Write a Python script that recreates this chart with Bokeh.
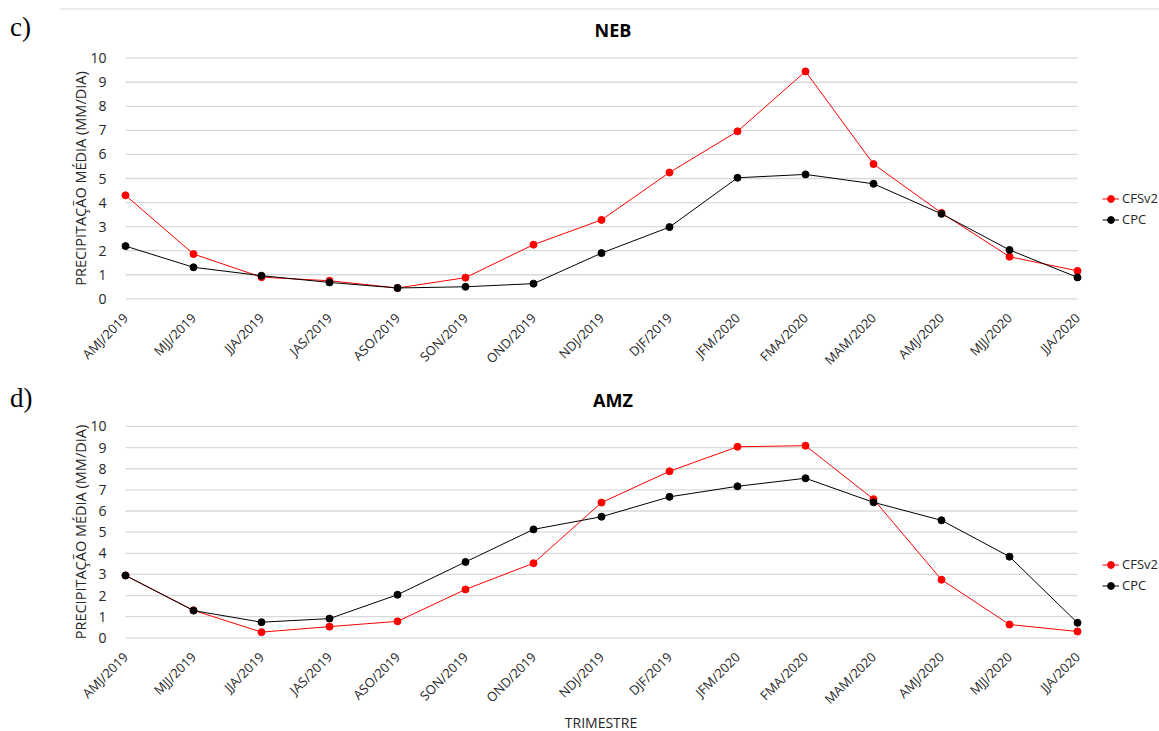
import math
from bokeh.plotting import figure
from bokeh.models import FixedTicker, Legend, LegendItem, Range1d, Div
from bokeh.layouts import column
from bokeh.embed import file_html
from bokeh.resources import INLINE

trimestres = ["AMJ/2019", "MJJ/2019", "JJA/2019", "JAS/2019", "ASO/2019",
              "SON/2019", "OND/2019", "NDJ/2019", "DJF/2019", "JFM/2020",
              "FMA/2020", "MAM/2020", "AMJ/2020", "MJJ/2020", "JJA/2020"]

neb_cfsv2 = [4.3, 1.86, 0.9, 0.75, 0.45, 0.88, 2.25, 3.28, 5.25, 6.96, 9.45, 5.6, 3.57, 1.75, 1.16]
neb_cpc = [2.19, 1.31, 0.96, 0.68, 0.45, 0.5, 0.63, 1.9, 2.98, 5.03, 5.17, 4.78, 3.53, 2.03, 0.89]

amz_cfsv2 = [2.95, 1.3, 0.27, 0.53, 0.78, 2.29, 3.53, 6.4, 7.88, 9.04, 9.09, 6.56, 2.75, 0.63, 0.3]
amz_cpc = [2.95, 1.29, 0.74, 0.91, 2.04, 3.59, 5.13, 5.73, 6.67, 7.17, 7.55, 6.41, 5.56, 3.84, 0.71]

y_ticks = list(range(0, 11))
series_names = ["CFSv2", "CPC"]
y_label = "PRECIPITAÇÃO MÉDIA (MM/DIA)"
x_label = "TRIMESTRE"

FONT = "Open Sans"
TXT = "#262626"
GRID = "#d9d9d9"
RED = "#ff0000"
BLK = "#000000"

W = 1159
LEFT = 117
TOP_B = 4
PX_PER_X = 68.0
X_START = -8.0 / PX_PER_X
X_END = X_START + (W - LEFT) / PX_PER_X


def header(letter, name, height, letter_y, name_y, rule=False):
    parts = ['<div style="position:relative;width:%dpx;height:%dpx;margin:0;padding:0;">' % (W, height)]
    if rule:
        parts.append('<div style="position:absolute;left:60px;top:8px;width:1099px;'
                     'height:2px;background:#ececec;"></div>')
    parts.append('<span style="position:absolute;left:10px;top:%dpx;transform:translateY(-50%%);'
                 'font-family:\'Liberation Serif\',serif;font-size:27px;line-height:1;'
                 'color:#000;white-space:nowrap;">%s</span>' % (letter_y, letter))
    parts.append('<span style="position:absolute;left:613px;top:%dpx;transform:translate(-50%%,-50%%);'
                 'font-family:\'Open Sans\',sans-serif;font-weight:bold;font-size:18px;'
                 'line-height:1;color:#000;white-space:nowrap;">%s</span>' % (name_y, name))
    parts.append('</div>')
    return Div(text="".join(parts), width=W, height=height, margin=0)


def make_panel(cfs, cpc, frame_h, bot_b, px_per_y, pad_bot, legend_loc):
    y_start = -pad_bot / px_per_y
    y_end = y_start + frame_h / px_per_y
    p = figure(width=W, height=TOP_B + frame_h + bot_b, output_backend="svg",
               toolbar_location=None, title=None,
               x_range=Range1d(X_START, X_END),
               y_range=Range1d(y_start, y_end),
               min_border_left=LEFT, min_border_right=0,
               min_border_top=TOP_B, min_border_bottom=bot_b)
    p.outline_line_color = None
    p.xgrid.visible = False
    p.ygrid.visible = False

    xs = list(range(len(trimestres)))
    n = len(y_ticks)
    p.segment(x0=[xs[0]] * n, x1=[xs[-1]] * n, y0=y_ticks, y1=y_ticks,
              line_color=GRID, line_width=1.3)

    l1 = p.line(xs, cfs, line_color=RED, line_width=1)
    s1 = p.scatter(xs, cfs, size=7, fill_color=RED, line_color=RED)
    l2 = p.line(xs, cpc, line_color=BLK, line_width=1)
    s2 = p.scatter(xs, cpc, size=7, fill_color=BLK, line_color=BLK)

    p.yaxis.ticker = FixedTicker(ticks=y_ticks)
    p.yaxis.axis_line_color = None
    p.yaxis.major_tick_line_color = None
    p.yaxis.minor_tick_line_color = None
    p.yaxis.major_label_text_font = FONT
    p.yaxis.major_label_text_font_size = "14px"
    p.yaxis.major_label_text_color = TXT
    p.yaxis.major_label_standoff = 5
    p.yaxis.axis_label = y_label
    p.yaxis.axis_label_text_font = FONT
    p.yaxis.axis_label_text_font_size = "14.5px"
    p.yaxis.axis_label_text_font_style = "normal"
    p.yaxis.axis_label_text_color = TXT
    p.yaxis.axis_label_standoff = -3

    p.xaxis.ticker = FixedTicker(ticks=xs)
    p.xaxis.major_label_overrides = {i: t for i, t in enumerate(trimestres)}
    p.xaxis.major_label_orientation = math.pi / 4
    p.xaxis.axis_line_color = None
    p.xaxis.major_tick_line_color = None
    p.xaxis.minor_tick_line_color = None
    p.xaxis.major_label_text_font = FONT
    p.xaxis.major_label_text_font_size = "13px"
    p.xaxis.major_label_text_color = TXT
    p.xaxis.major_label_standoff = 3

    legend = Legend(items=[LegendItem(label=series_names[0], renderers=[l1, s1]),
                           LegendItem(label=series_names[1], renderers=[l2, s2])],
                    location=legend_loc, background_fill_alpha=0,
                    border_line_color=None, padding=0, margin=0, spacing=3,
                    glyph_width=17, glyph_height=17, label_height=17,
                    label_standoff=3, label_text_font=FONT,
                    label_text_font_size="13px", label_text_color=TXT)
    p.add_layout(legend)
    return p


# page rows: header1 0-46, p1 46-380 (frame 50-306), header2 380-414,
# p2 414-716 (frame 418-646), footer 716-730
h1 = header("c)", "NEB", 46, 27, 30, rule=True)
p1 = make_panel(neb_cfsv2, neb_cpc, frame_h=256, bot_b=74, px_per_y=24.06,
                pad_bot=7.7, legend_loc=(985, 78))
h2 = header("d)", "AMZ", 34, 18, 20)
p2 = make_panel(amz_cfsv2, amz_cpc, frame_h=228, bot_b=70, px_per_y=21.23,
                pad_bot=7.7, legend_loc=(985, 51))
foot = Div(text=('<div style="position:relative;width:%dpx;height:14px;">'
                 '<span style="position:absolute;left:601px;top:7px;transform:translate(-50%%,-50%%);'
                 'font-family:\'Open Sans\',sans-serif;font-size:14px;line-height:1;color:%s;'
                 'white-space:nowrap;">%s</span></div>') % (W, TXT, x_label),
           width=W, height=14, margin=0)

layout = column(h1, p1, h2, p2, foot, spacing=0)
open("out.html", "w").write(file_html(layout, INLINE))
